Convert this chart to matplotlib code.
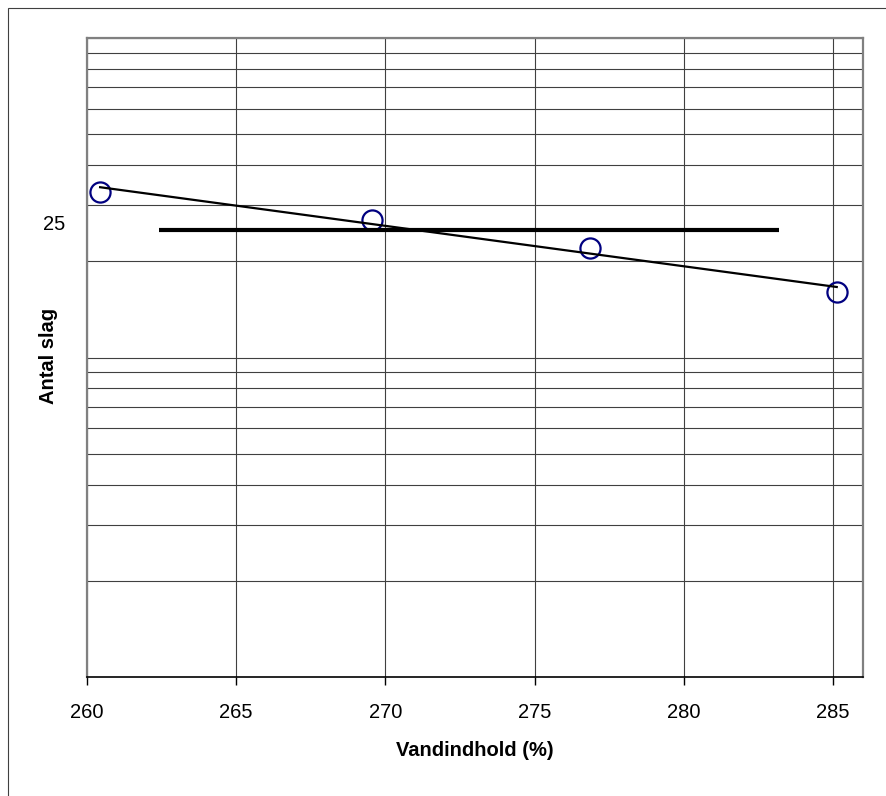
import numpy as np
import matplotlib
matplotlib.use('Agg')
import matplotlib.pyplot as plt
from matplotlib.patches import Rectangle
from matplotlib.ticker import FixedLocator, NullFormatter
from matplotlib.transforms import ScaledTranslation

# measured points: water content (%) vs number of blows
vandindhold = [260.44, 269.56, 276.87, 285.13]
antal_slag = [33, 27, 22, 16]

# 25-blow reference line
ref_slag = 25
ref_x = [262.4, 283.2]

xticks = [260, 265, 270, 275, 280, 285]

plt.rcParams['font.family'] = ['Liberation Sans', 'DejaVu Sans']

fig = plt.figure(figsize=(8.86, 7.96), dpi=100)
fig.patches.append(Rectangle((8 / 886, -0.1), 1.2, 1.1 - 8 / 796,
                             transform=fig.transFigure, fill=False,
                             ec='#404040', lw=0.8))

ax = fig.add_axes([87 / 886, 119 / 796, 775.7 / 886, 639 / 796])
ax.set_yscale('log')
ax.set_xlim(260, 286)
ax.set_ylim(1, 100)

# exponential trendline, as in the spreadsheet
k, c = np.polyfit(vandindhold, np.log10(antal_slag), 1)
xs = np.array([min(vandindhold), max(vandindhold)])
ax.plot(xs, 10 ** (k * xs + c), color='black', lw=1.6, zorder=4)

ax.plot(vandindhold, antal_slag, 'o', mfc='none', mec='#000080',
        ms=14.5, mew=1.6, zorder=3)
ax.plot(ref_x, [ref_slag, ref_slag], color='black', lw=3,
        solid_capstyle='butt', zorder=4)

# grid
ax.set_xticks(xticks)
ax.set_xticklabels([str(t) for t in xticks])
minor = [m * 10 ** e for e in (0, 1) for m in range(2, 11)]
ax.yaxis.set_minor_locator(FixedLocator(minor))
ax.yaxis.set_minor_formatter(NullFormatter())
ax.set_yticks([ref_slag])
ax.set_yticklabels([str(ref_slag)])
ax.xaxis.grid(True, which='major', color='#404040', lw=0.8)
ax.yaxis.grid(True, which='minor', color='#404040', lw=0.8)
ax.yaxis.grid(False, which='major')
ax.set_axisbelow(True)

ax.tick_params(axis='x', direction='out', length=6, width=1,
               labelsize=14.5, pad=12.5, color='black')
ax.tick_params(axis='y', which='both', length=0, labelsize=14.5, pad=15.5)
for lab in ax.get_yticklabels():
    lab.set_transform(lab.get_transform() +
                      ScaledTranslation(0, 0.08, fig.dpi_scale_trans))

for s in ('left', 'top', 'right'):
    ax.spines[s].set_color('#808080')
    ax.spines[s].set_linewidth(1.6)
ax.spines['bottom'].set_color('black')
ax.spines['bottom'].set_linewidth(1.2)

fig.text(475 / 886, 1 - 750 / 796, 'Vandindhold (%)', ha='center',
         va='center', fontsize=14.5, fontweight='bold')
fig.text(48 / 886, 1 - 356 / 796, 'Antal slag', ha='center', va='center',
         rotation=90, fontsize=14.5, fontweight='bold')

fig.savefig('out.png', dpi=100)
